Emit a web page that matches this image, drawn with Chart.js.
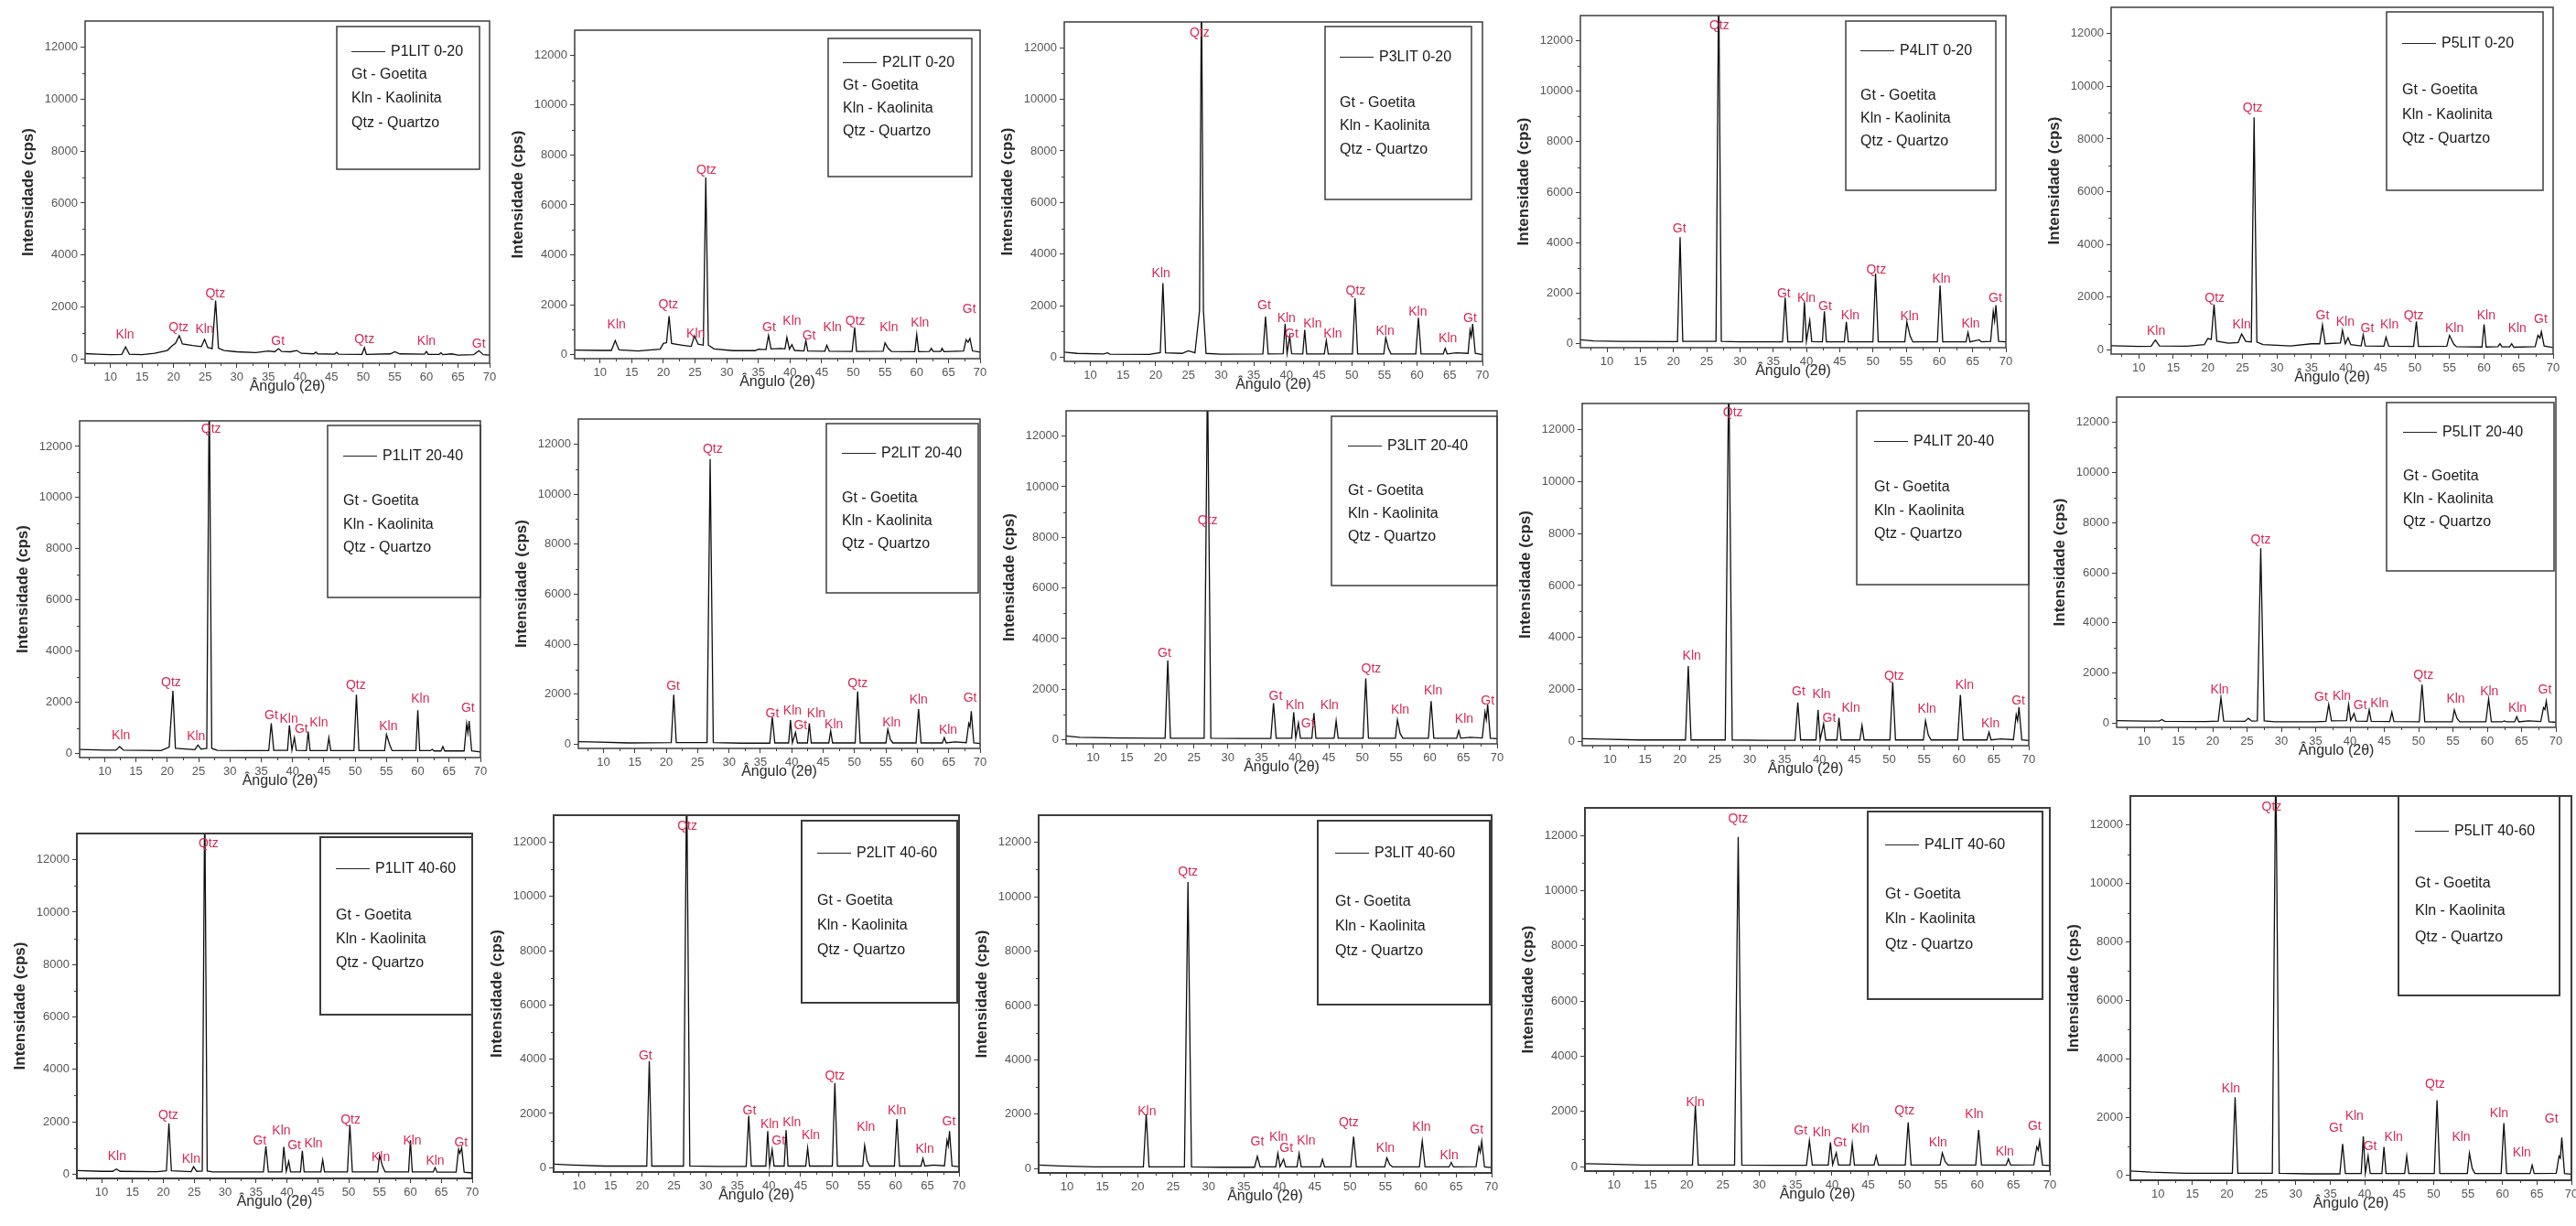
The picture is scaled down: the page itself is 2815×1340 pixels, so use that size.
<!DOCTYPE html>
<html>
<head>
<meta charset="utf-8">
<script src="https://cdn.jsdelivr.net/npm/chart.js@4/dist/chart.umd.min.js"></script>
<style>
  html, body { margin: 0; padding: 0; background: #fff; }
  #page { position: relative; width: 2815px; height: 1340px; overflow: hidden; background: #fff; }
  #page canvas { position: absolute; }
</style>
</head>
<body>
<div id="page"></div>
<script>
// ---- data (angle 2θ, intensity cps) ----
const angleTicks = [10, 15, 20, 25, 30, 35, 40, 45, 50, 55, 60, 65, 70];
const minorAngles = [7.5, 12.5, 17.5, 22.5, 27.5, 32.5, 37.5, 42.5, 47.5, 52.5, 57.5, 62.5, 67.5];
const intensityTicks = [0, 2000, 4000, 6000, 8000, 10000, 12000];
const minorIntensities = [1000, 3000, 5000, 7000, 9000, 11000];
const minerals = ['Gt - Goetita', 'Kln - Kaolinita', 'Qtz - Quartzo'];

const p1_0_20 = [[6,210],[8,190],[10,170],[11.8,180],[12.4,470],[13,190],[15,170],[17,220],[19,330],[19.8,520],[20.3,600],[20.9,900],[21.4,580],[23,520],[24.4,480],[24.9,760],[25.4,450],[26.1,400],[26.65,2250],[27.1,420],[28,330],[30,280],[33,250],[35,310],[36,280],[36.6,400],[37.1,290],[38.5,280],[39.5,330],[40.2,220],[42.2,200],[42.5,270],[42.8,200],[45.5,190],[45.8,260],[46.1,190],[49.8,180],[50.2,440],[50.5,180],[54.3,200],[55,280],[55.8,200],[59.7,190],[60,290],[60.3,180],[62,180],[62.3,240],[62.6,170],[64,200],[65,150],[67.5,170],[68.3,320],[69,170],[70,150]];
const p2_0_20 = [[6,180],[10,170],[11.8,170],[12.4,560],[13,190],[16,150],[19.5,220],[20,450],[20.5,480],[20.9,1540],[21.3,450],[23,380],[24.4,330],[24.9,750],[25.5,420],[26.3,380],[26.7,7100],[27.1,380],[28,230],[31,160],[34.5,160],[35,220],[36.2,200],[36.6,770],[37,230],[38.5,250],[39.2,230],[39.5,690],[39.9,220],[40.3,400],[40.7,170],[42.2,150],[42.5,560],[42.8,150],[45.5,140],[45.8,380],[46.2,140],[49.8,130],[50.2,1090],[50.5,130],[54.7,140],[55,470],[55.5,250],[56,130],[59.7,120],[60,810],[60.3,120],[62,130],[62.3,250],[62.6,130],[63.8,130],[64,250],[64.3,120],[67.4,150],[67.8,600],[68.1,500],[68.4,650],[68.8,150],[70,100]];
const p3_0_20 = [[6,200],[8,150],[12,130],[12.6,170],[13,120],[19,110],[20.7,180],[21.1,2870],[21.5,170],[24,150],[25,250],[26,170],[26.7,1800],[27,14500],[27.3,1800],[27.7,150],[30,120],[36.4,130],[36.8,1580],[37.2,130],[39.5,140],[39.8,1290],[40.1,150],[40.5,820],[40.8,140],[42.5,130],[42.8,1060],[43.1,130],[45.8,130],[46.1,650],[46.4,130],[50.1,130],[50.5,2290],[50.9,130],[54.9,130],[55.2,760],[55.6,350],[56,130],[59.8,130],[60.2,1530],[60.6,130],[64,130],[64.3,350],[64.6,130],[66,170],[67.8,150],[68.1,1050],[68.3,800],[68.5,1290],[68.9,150],[70,100]];
const p4_0_20 = [[6,150],[8,110],[12,90],[20.6,80],[21,4220],[21.4,90],[26.4,90],[26.8,14500],[27.2,90],[30,70],[36.4,70],[36.8,1820],[37.2,70],[39.4,70],[39.7,1640],[40,90],[40.5,920],[40.8,80],[42.4,70],[42.7,1280],[43,70],[45.7,70],[46,860],[46.3,70],[50,70],[50.4,2780],[50.8,70],[54.8,70],[55.1,860],[55.6,300],[56,70],[59.7,70],[60.1,2300],[60.5,70],[64,70],[64.3,440],[64.6,70],[66,150],[66.3,70],[67.7,90],[68.1,1280],[68.3,900],[68.5,1520],[68.9,90],[70,70]];
const p5_0_20 = [[6,160],[10,130],[11.8,140],[12.4,370],[13,150],[17,140],[19.5,200],[20,430],[20.5,400],[20.9,1720],[21.3,330],[23,250],[24.4,280],[24.9,600],[25.5,320],[26.3,300],[26.7,8820],[27.1,300],[28,200],[32,150],[35,230],[36.2,230],[36.6,940],[37,230],[39.2,260],[39.5,745],[39.9,230],[40.3,460],[40.7,200],[42.2,150],[42.5,570],[42.8,150],[45.5,140],[45.8,480],[46.2,140],[49.8,130],[50.2,1080],[50.5,130],[54.6,140],[55,550],[55.6,220],[56,120],[59.7,110],[60,970],[60.3,110],[62,120],[62.3,230],[62.6,110],[63.7,110],[64,230],[64.3,100],[67.4,120],[67.8,550],[68.1,450],[68.3,690],[68.7,150],[70,90]];

const p1_20_40 = [[6,160],[10,130],[11.8,130],[12.4,270],[13,130],[19,110],[20.3,250],[20.9,2450],[21.3,200],[24.4,150],[24.9,330],[25.4,170],[26.3,200],[26.7,14500],[27.1,200],[28,120],[33,110],[36.2,110],[36.6,1180],[37,120],[39.2,120],[39.5,1100],[39.9,130],[40.3,620],[40.6,120],[42.2,110],[42.5,860],[42.8,110],[45.5,110],[45.8,620],[46.1,110],[49.8,110],[50.2,2300],[50.6,110],[54.7,110],[55,740],[55.5,350],[55.9,110],[59.7,110],[60,1690],[60.3,110],[62,110],[62.3,160],[62.6,100],[63.7,100],[64,270],[64.3,100],[67.4,100],[67.8,1160],[68,800],[68.2,1270],[68.6,100],[70,60]];
const p2_20_40 = [[6,110],[8,100],[14,60],[20.8,70],[21.2,1990],[21.6,70],[26.5,70],[27,11400],[27.5,70],[32,50],[36.5,50],[36.9,1090],[37.3,60],[39.5,60],[39.8,970],[40.1,70],[40.6,480],[40.9,60],[42.5,60],[42.8,840],[43.1,60],[45.9,60],[46.2,540],[46.5,60],[50.1,60],[50.5,2110],[50.9,60],[55,60],[55.3,600],[55.7,200],[56.1,60],[59.8,60],[60.2,1410],[60.6,60],[64,60],[64.3,270],[64.6,60],[66,100],[67.8,70],[68.2,840],[68.4,700],[68.6,1330],[69,60],[70,40]];
const p3_20_40 = [[6,150],[8,100],[14,70],[20.7,60],[21.1,3140],[21.5,60],[26.5,60],[27,14500],[27.5,60],[32,50],[36.4,50],[36.8,1450],[37.2,60],[39.5,60],[39.8,1090],[40.1,70],[40.5,660],[40.8,60],[42.5,60],[42.8,1060],[43.1,60],[45.8,60],[46.1,750],[46.4,60],[50.1,60],[50.5,2420],[50.9,60],[54.9,60],[55.2,790],[55.6,250],[56,60],[59.8,60],[60.2,1530],[60.6,60],[64,60],[64.3,360],[64.6,60],[66,100],[67.8,70],[68.2,1090],[68.4,800],[68.6,1390],[69,60],[70,40]];
const p4_20_40 = [[6,110],[9,90],[14,60],[20.8,60],[21.2,2900],[21.6,60],[26.5,60],[27,14500],[27.5,60],[32,50],[36.5,50],[36.9,1500],[37.3,60],[39.5,60],[39.8,1210],[40.1,70],[40.6,680],[40.9,60],[42.5,60],[42.8,910],[43.1,60],[45.8,60],[46.1,620],[46.4,60],[50.1,60],[50.5,2280],[50.9,60],[54.9,60],[55.2,800],[55.6,250],[56,60],[59.8,60],[60.2,1790],[60.6,60],[64,60],[64.3,360],[64.6,60],[66,100],[67.8,70],[68.2,1030],[68.4,800],[68.6,1320],[69,60],[70,40]];
const p5_20_40 = [[6,110],[10,90],[12.2,90],[12.6,150],[13,80],[19,70],[20.8,90],[21.2,1020],[21.6,90],[24.7,80],[25.2,200],[25.7,90],[26.5,100],[27,6980],[27.5,100],[29,60],[35,60],[36.5,80],[36.9,750],[37.3,100],[39.5,110],[39.8,750],[40.1,110],[40.6,390],[40.9,90],[42.5,80],[42.8,535],[43.1,80],[45.8,70],[46.1,450],[46.4,70],[50.1,60],[50.5,1540],[50.9,60],[54.9,60],[55.2,535],[55.6,200],[56,60],[59.8,60],[60.2,970],[60.6,60],[62.2,60],[62.5,100],[62.8,60],[64,60],[64.3,270],[64.6,60],[66,100],[67.8,70],[68.2,630],[68.4,550],[68.6,880],[69,60],[70,40]];

const p1_40_60 = [[6,140],[10,110],[11.8,110],[12.4,200],[13,110],[19,100],[20.5,130],[20.9,1940],[21.3,130],[24.5,100],[24.9,290],[25.4,110],[26.3,120],[26.7,14500],[27.1,120],[28,90],[35,90],[36.2,90],[36.6,1070],[37,90],[39.2,90],[39.5,1040],[39.9,110],[40.3,490],[40.6,90],[42.2,90],[42.5,890],[42.8,90],[45.5,90],[45.8,550],[46.1,90],[49.8,90],[50.2,1880],[50.6,90],[54.7,90],[55,720],[55.5,300],[55.9,90],[59.7,90],[60,1300],[60.3,90],[63.7,90],[64,255],[64.3,80],[67.4,80],[67.8,950],[68,800],[68.3,1010],[68.7,80],[70,50]];
const p2_40_60 = [[6,130],[9,100],[14,60],[20.7,60],[21.1,3930],[21.5,60],[26.5,60],[27,14500],[27.5,60],[32,50],[36.4,50],[36.8,1910],[37.2,60],[39.5,60],[39.8,1350],[40.1,70],[40.5,670],[40.8,60],[42.4,60],[42.7,1380],[43,60],[45.8,60],[46.1,730],[46.4,60],[50,60],[50.4,3120],[50.8,60],[54.8,60],[55.1,820],[55.5,250],[55.9,60],[59.8,60],[60.2,1800],[60.6,60],[64,60],[64.3,340],[64.6,60],[66,100],[67.7,70],[68.1,1010],[68.3,800],[68.5,1350],[68.9,60],[70,40]];
const p3_40_60 = [[6,130],[9,100],[14,60],[20.8,60],[21.2,2000],[21.6,60],[26.6,60],[27.1,10540],[27.6,60],[32,50],[36.5,50],[36.9,450],[37.3,60],[39.5,60],[39.8,560],[40.1,70],[40.6,340],[40.9,60],[42.5,60],[42.8,560],[43.1,60],[45.8,60],[46.1,340],[46.4,60],[50.1,60],[50.5,1180],[50.9,60],[54.9,60],[55.2,390],[55.6,150],[56,60],[59.8,60],[60.2,1010],[60.6,60],[64,60],[64.3,225],[64.6,60],[67.8,70],[68.2,790],[68.4,600],[68.6,1010],[69,60],[70,40]];
const p4_40_60 = [[6,110],[9,90],[14,60],[20.8,60],[21.2,2210],[21.6,60],[26.6,60],[27.1,11950],[27.6,60],[32,50],[36.5,50],[36.9,940],[37.3,60],[39.5,60],[39.8,885],[40.1,70],[40.6,500],[40.9,60],[42.5,60],[42.8,830],[43.1,60],[45.8,60],[46.1,390],[46.4,60],[50.1,60],[50.5,1600],[50.9,60],[54.9,60],[55.2,500],[55.6,180],[56,60],[59.8,60],[60.2,1330],[60.6,60],[64,60],[64.3,280],[64.6,60],[67.8,70],[68.2,720],[68.4,600],[68.6,940],[69,60],[70,40]];
const p5_40_60 = [[6,160],[9,120],[14,80],[20.8,80],[21.2,2680],[21.6,80],[26.6,80],[27.1,14500],[27.6,80],[32,60],[36.4,60],[36.8,1080],[37.2,70],[39.5,70],[39.8,1340],[40.1,80],[40.5,670],[40.8,70],[42.5,70],[42.8,980],[43.1,70],[45.8,70],[46.1,670],[46.4,70],[50.1,70],[50.5,2580],[50.9,70],[54.9,70],[55.2,770],[55.6,250],[56,70],[59.8,70],[60.2,1800],[60.6,70],[64,70],[64.3,360],[64.6,70],[67.8,80],[68.2,670],[68.4,600],[68.6,1300],[69,70],[70,50]];

// peak identifications: [mineral, angle, intensity at text baseline]
const p1_0_20_labels = [['Kln',12.3,790],['Qtz',20.8,1080],['Kln',24.9,1000],['Qtz',26.6,2370],['Gt',36.5,550],['Qtz',50.2,610],['Kln',60.0,550],['Gt',68.3,430]];
const p2_0_20_labels = [['Kln',12.6,1050],['Qtz',20.8,1850],['Kln',25.1,690],['Qtz',26.8,7240],['Gt',36.7,930],['Kln',40.3,1180],['Gt',43,625],['Kln',46.7,930],['Qtz',50.3,1180],['Kln',55.6,930],['Kln',60.5,1110],['Gt',68.3,1670]];
const p3_0_20_labels = [['Kln',20.8,3110],['Qtz',26.7,12440],['Gt',36.6,1850],['Kln',40.0,1350],['Gt',40.8,760],['Kln',44,1170],['Kln',47.1,760],['Qtz',50.6,2440],['Kln',55.1,880],['Kln',60.1,1620],['Kln',64.7,590],['Gt',68.1,1350]];
const p4_0_20_labels = [['Gt',20.9,4400],['Qtz',26.9,12470],['Gt',36.6,1820],['Kln',40,1640],['Gt',42.8,1340],['Kln',46.6,980],['Qtz',50.5,2790],['Kln',55.5,920],['Kln',60.3,2420],['Kln',64.7,620],['Gt',68.4,1640]];
const p5_0_20_labels = [['Kln',12.5,570],['Qtz',21.0,1830],['Kln',24.9,800],['Qtz',26.5,9050],['Gt',36.6,1150],['Kln',39.9,920],['Gt',43.1,690],['Kln',46.3,800],['Qtz',49.8,1150],['Kln',55.7,690],['Kln',60.3,1150],['Kln',64.8,690],['Gt',68.2,1030]];
const p1_20_40_labels = [['Kln',12.6,570],['Qtz',20.6,2630],['Kln',24.6,510],['Qtz',27,12530],['Gt',36.6,1330],['Kln',39.4,1210],['Gt',41.4,800],['Kln',44.2,1040],['Qtz',50.1,2510],['Kln',55.3,920],['Kln',60.4,1980],['Gt',68,1630]];
const p2_20_40_labels = [['Gt',21.1,2170],['Qtz',27.4,11640],['Gt',36.9,1090],['Kln',40.1,1210],['Gt',41.4,600],['Kln',43.9,1090],['Kln',46.7,660],['Qtz',50.5,2290],['Kln',55.9,720],['Kln',60.2,1630],['Kln',64.9,420],['Gt',68.4,1690]];
const p3_20_40_labels = [['Gt',20.6,3260],['Qtz',27,8520],['Gt',37.1,1570],['Kln',40,1210],['Gt',41.9,480],['Kln',45.1,1210],['Qtz',51.3,2660],['Kln',55.6,1030],['Kln',60.5,1810],['Kln',65.1,660],['Gt',68.6,1390]];
const p4_20_40_labels = [['Kln',21.7,3140],['Qtz',27.6,12500],['Gt',37,1790],['Kln',40.3,1670],['Gt',41.4,740],['Kln',44.5,1150],['Qtz',50.7,2380],['Kln',55.4,1090],['Kln',60.8,2030],['Kln',64.5,560],['Gt',68.5,1440]];
const p5_20_40_labels = [['Kln',21,1180],['Qtz',27,7170],['Gt',35.8,880],['Kln',38.8,940],['Gt',41.5,570],['Kln',44.3,630],['Qtz',50.7,1790],['Kln',55.4,810],['Kln',60.3,1120],['Kln',64.4,450],['Gt',68.4,1180]];
const p1_40_60_labels = [['Kln',12.5,545],['Qtz',20.8,2110],['Kln',24.5,430],['Qtz',27.3,12490],['Gt',35.6,1120],['Kln',39.1,1530],['Gt',41.2,950],['Kln',44.3,1010],['Qtz',50.3,1940],['Kln',55.2,490],['Kln',60.3,1120],['Kln',64,370],['Gt',68.2,1070]];
const p2_40_60_labels = [['Gt',20.5,3990],['Qtz',27.1,12470],['Gt',36.9,1970],['Kln',40.1,1460],['Gt',41.5,840],['Kln',43.6,1520],['Kln',46.6,1070],['Qtz',50.4,3260],['Kln',55.3,1350],['Kln',60.2,1970],['Kln',64.6,560],['Gt',68.4,1570]];
const p3_40_60_labels = [['Kln',21.3,1970],['Qtz',27.1,10790],['Gt',36.9,840],['Kln',39.9,1010],['Gt',41,620],['Kln',43.8,900],['Qtz',49.8,1570],['Kln',55,620],['Kln',60.1,1400],['Kln',64,340],['Gt',67.9,1290]];
const p4_40_60_labels = [['Kln',21.2,2190],['Qtz',27.1,12470],['Gt',35.7,1170],['Kln',38.6,1110],['Gt',41.1,720],['Kln',43.9,1220],['Qtz',50,1880],['Kln',54.6,720],['Kln',59.6,1770],['Kln',63.8,390],['Gt',67.9,1330]];
const p5_40_60_labels = [['Kln',20.6,2840],['Qtz',26.5,12500],['Gt',35.8,1490],['Kln',38.5,1900],['Gt',40.8,880],['Kln',44.2,1190],['Qtz',50.2,2990],['Kln',54,1190],['Kln',59.5,2010],['Kln',62.8,670],['Gt',67.1,1800]];

const panels = [
  { name: 'P1LIT 0-20', pattern: p1_0_20, labels: p1_0_20_labels },
  { name: 'P2LIT 0-20', pattern: p2_0_20, labels: p2_0_20_labels },
  { name: 'P3LIT 0-20', pattern: p3_0_20, labels: p3_0_20_labels },
  { name: 'P4LIT 0-20', pattern: p4_0_20, labels: p4_0_20_labels },
  { name: 'P5LIT 0-20', pattern: p5_0_20, labels: p5_0_20_labels },
  { name: 'P1LIT 20-40', pattern: p1_20_40, labels: p1_20_40_labels },
  { name: 'P2LIT 20-40', pattern: p2_20_40, labels: p2_20_40_labels },
  { name: 'P3LIT 20-40', pattern: p3_20_40, labels: p3_20_40_labels },
  { name: 'P4LIT 20-40', pattern: p4_20_40, labels: p4_20_40_labels },
  { name: 'P5LIT 20-40', pattern: p5_20_40, labels: p5_20_40_labels },
  { name: 'P1LIT 40-60', pattern: p1_40_60, labels: p1_40_60_labels },
  { name: 'P2LIT 40-60', pattern: p2_40_60, labels: p2_40_60_labels },
  { name: 'P3LIT 40-60', pattern: p3_40_60, labels: p3_40_60_labels },
  { name: 'P4LIT 40-60', pattern: p4_40_60, labels: p4_40_60_labels },
  { name: 'P5LIT 40-60', pattern: p5_40_60, labels: p5_40_60_labels }
];

// ---- layout: plot area [left, top, right, bottom] in page px ----
const frames = [
  [93, 23, 535, 397], [628, 33, 1071, 392], [1163, 24, 1620, 395], [1727, 17, 2192, 380], [2307, 8, 2790, 387],
  [87, 460, 525, 828], [632, 458, 1071, 818], [1165, 449, 1636, 813], [1729, 441, 2217, 815], [2313, 434, 2793, 795],
  [84, 911, 516, 1288], [605, 891, 1048, 1281], [1135, 891, 1630, 1282], [1732, 883, 2240, 1280], [2328, 870, 2810, 1290]
];
// legend box [gap to right edge, gap to top, width, height, blank line after sample]
const legendBoxes = [
  [11, 6, 156, 156, 0], [9, 9, 157, 151, 0], [12, 5, 160, 189, 1], [11, 6, 164, 185, 1], [11, 5, 171, 195, 1],
  [0, 5, 167, 188, 1], [2, 5, 166, 185, 1], [0, 6, 181, 185, 1], [0, 8, 188, 190, 1], [2, 6, 183, 184, 1],
  [0, 4, 166, 194, 1], [2, 6, 170, 199, 1], [2, 6, 188, 201, 1], [8, 4, 191, 205, 1], [13, 0, 176, 218, 1]
];

const FONT = '"Liberation Sans", Arial, Helvetica, sans-serif';
Chart.defaults.font.family = FONT;
Chart.defaults.color = '#4a4a4a';

const Y_W = 76, X_H = 37, PAD_T = 12, PAD_R = 14;

const xrdDecor = {
  id: 'xrdDecor',
  afterDraw(chart, args, opts) {
    const { ctx, chartArea: a } = chart;
    const x = chart.scales.x, y = chart.scales.y;
    ctx.save();
    // frame around the plot
    ctx.strokeStyle = '#3c3c3c';
    ctx.lineWidth = opts.frameWidth;
    ctx.strokeRect(a.left, a.top, a.width, a.height);
    // minor ticks
    ctx.lineWidth = 1;
    ctx.beginPath();
    minorAngles.forEach(v => {
      const px = Math.round(x.getPixelForValue(v)) + 0.5;
      ctx.moveTo(px, a.bottom); ctx.lineTo(px, a.bottom + 3);
    });
    minorIntensities.forEach(v => {
      const py = Math.round(y.getPixelForValue(v)) + 0.5;
      ctx.moveTo(a.left, py); ctx.lineTo(a.left - 3, py);
    });
    ctx.stroke();
    // peak names
    ctx.fillStyle = '#d62a54';
    ctx.font = '14px ' + FONT;
    ctx.textAlign = 'center';
    ctx.textBaseline = 'alphabetic';
    opts.labels.forEach(([t, ang, val]) => {
      ctx.fillText(t, x.getPixelForValue(ang), y.getPixelForValue(val));
    });
    // legend box
    const [rg, tg, w, h, spacer] = opts.box;
    const bx = a.right - rg - w, by = a.top + tg;
    ctx.strokeStyle = '#3c3c3c';
    ctx.lineWidth = opts.frameWidth;
    ctx.strokeRect(bx, by, w, h);
    const rows = spacer ? [0.175, 0.44, 0.575, 0.71] : [0.175, 0.34, 0.505, 0.675];
    const lx = bx + Math.round(w * 0.1);
    const ly = Math.round(by + h * rows[0]) + 0.5;
    ctx.strokeStyle = '#222';
    ctx.lineWidth = 1.2;
    ctx.beginPath(); ctx.moveTo(lx, ly); ctx.lineTo(lx + 37, ly); ctx.stroke();
    ctx.fillStyle = '#1a1a1a';
    ctx.font = '16px ' + FONT;
    ctx.textAlign = 'left';
    ctx.textBaseline = 'middle';
    ctx.fillText(opts.name, lx + 43, ly);
    minerals.forEach((m, k) => ctx.fillText(m, lx, by + h * rows[k + 1]));
    ctx.restore();
  }
};

const page = document.getElementById('page');

panels.forEach((p, i) => {
  const [L, T, R, B] = frames[i];
  const cv = document.createElement('canvas');
  cv.width = (R - L) + Y_W + PAD_R;
  cv.height = (B - T) + PAD_T + X_H;
  cv.style.left = (L - Y_W) + 'px';
  cv.style.top = (T - PAD_T) + 'px';
  cv.style.width = cv.width + 'px';
  cv.style.height = cv.height + 'px';
  page.appendChild(cv);

  new Chart(cv, {
    type: 'line',
    data: {
      datasets: [{
        label: p.name,
        data: p.pattern.map(([a, c]) => ({ x: a, y: c })),
        borderColor: '#0d0d0d',
        borderWidth: 1.3,
        pointRadius: 0,
        tension: 0,
        fill: false
      }]
    },
    options: {
      responsive: false,
      animation: false,
      devicePixelRatio: 1,
      layout: { padding: { left: 0, top: PAD_T, right: PAD_R, bottom: 0 } },
      plugins: {
        legend: { display: false },
        tooltip: { enabled: false },
        xrdDecor: { labels: p.labels, box: legendBoxes[i], name: p.name, frameWidth: i >= 10 ? 2 : 1.5 }
      },
      scales: {
        x: {
          type: 'linear',
          min: 6,
          max: 70,
          afterBuildTicks: s => { s.ticks = angleTicks.map(v => ({ value: v })); },
          afterFit: s => { s.height = X_H; },
          ticks: { autoSkip: false, maxRotation: 0, padding: 3, font: { size: 13 }, color: '#555' },
          grid: { display: true, drawOnChartArea: false, drawTicks: true, tickLength: 5, color: '#3c3c3c' },
          border: { display: false },
          title: { display: true, text: 'Ângulo (2θ)', font: { size: 16 }, color: '#2a2a2a', padding: { top: 0, bottom: 2 } }
        },
        y: {
          min: -160,
          max: 13000,
          afterBuildTicks: s => { s.ticks = intensityTicks.map(v => ({ value: v })); },
          afterFit: s => { s.width = Y_W; },
          ticks: { padding: 3, font: { size: 13 }, color: '#555', callback: v => String(v) },
          grid: { display: true, drawOnChartArea: false, drawTicks: true, tickLength: 5, color: '#3c3c3c' },
          border: { display: false },
          title: { display: true, text: 'Intensidade (cps)', font: { size: 17, weight: 'bold' }, color: '#2a2a2a', padding: { top: 4, bottom: 0 } }
        }
      }
    },
    plugins: [xrdDecor]
  });
});
</script>
</body>
</html>
